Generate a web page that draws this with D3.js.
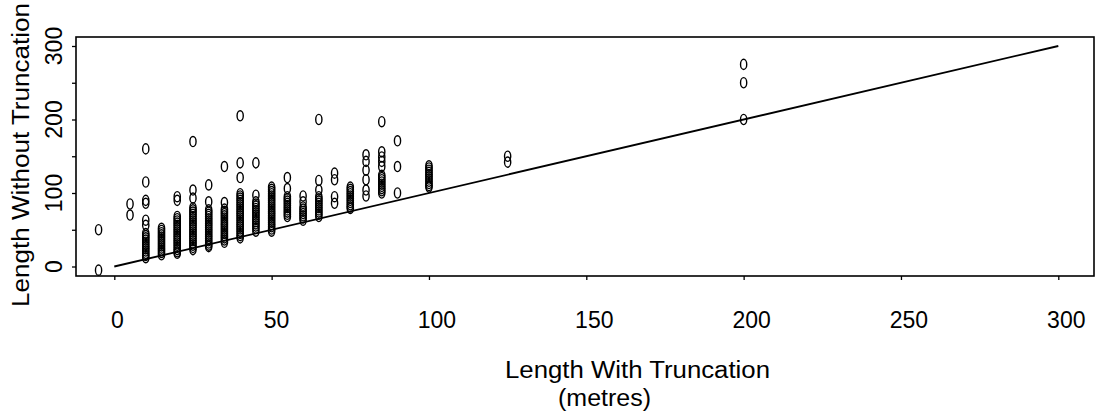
<!DOCTYPE html>
<html>
<head>
<meta charset="utf-8">
<script src="https://cdn.jsdelivr.net/npm/d3@7"></script>
<style>
  html, body { margin: 0; padding: 0; background: #fff; }
  svg { display: block; }
  text { font-family: "Liberation Sans", Arial, sans-serif; fill: #000; }
</style>
</head>
<body>
<svg id="chart" width="1096" height="413"></svg>
<script>
// ---- data ----
const lengthWith = [-5, 5, 10, 15, 20, 25, 30, 35, 40, 45, 50, 55, 60, 65, 70, 75, 80, 85, 90, 100, 125, 200];
const lengthWithout = [
  [50, -5],
  [85, 70],
  [160, 115, 90, 86, 63, 56, 45, 42, 39, 36, 33, 30, 27, 24, 21, 18, 15, 12],
  [52, 49, 46, 43, 40, 37, 34, 31, 28, 25, 22, 19, 16],
  [95, 90, 68, 65, 62, 59, 56, 53, 50, 47, 44, 41, 38, 35, 32, 29, 26, 23, 20, 18],
  [170, 104, 93, 80, 77, 74, 71, 68, 65, 62, 59, 56, 53, 50, 47, 44, 41, 38, 35, 32, 29, 26, 23],
  [111, 88, 77, 74, 71, 68, 65, 62, 59, 56, 53, 50, 47, 44, 41, 38, 35, 32, 29, 27],
  [136, 87, 78, 75, 72, 69, 66, 63, 60, 57, 54, 51, 48, 45, 42, 39, 36, 33],
  [205, 141, 121, 99, 96, 93, 90, 87, 84, 81, 78, 75, 72, 69, 66, 63, 60, 57, 54, 51, 48, 45, 42, 39],
  [141, 97, 88, 85, 82, 79, 76, 73, 70, 67, 64, 61, 58, 55, 52, 48],
  [108, 105, 102, 99, 96, 93, 90, 87, 84, 81, 78, 75, 72, 69, 66, 63, 60, 57, 54, 51, 48],
  [121, 106, 95, 92, 89, 86, 83, 80, 77, 74, 71, 68],
  [96, 88, 81, 78, 75, 72, 69, 66, 63],
  [200, 117, 104, 95, 92, 89, 86, 83, 80, 77, 74, 71, 68],
  [127, 118, 95, 86],
  [108, 105, 102, 99, 96, 93, 90, 87, 84, 81, 79],
  [152, 143, 131, 118, 104, 96],
  [197, 156, 149, 143, 136, 124, 121, 118, 115, 112, 109, 106, 103, 100],
  [171, 136, 100],
  [137, 134, 131, 128, 125, 122, 119, 116, 113, 110, 108],
  [150, 142],
  [275, 250, 200]
];
const identityLine = [0, 300];
const xTicks = [0, 50, 100, 150, 200, 250, 300];
const yTicks = [0, 50, 100, 150, 200, 250, 300];
const yTickLabels = [0, 100, 200, 300];
const xTitle = ["Length With Truncation", "(metres)"];
const yTitle = "Length Without Truncation";

// ---- layout ----
const svg = d3.select("#chart");
const frame = { left: 76, right: 1094, top: 37, bottom: 276 };
const x = d3.scaleLinear().domain([0, 300]).range([114.3, 1058.3]);
const y = d3.scaleLinear().domain([0, 300]).range([266.5, 46]);

const points = [];
lengthWith.forEach((xv, i) => lengthWithout[i].forEach(yv => points.push({ x: xv, y: yv })));

// identity line
svg.append("line")
  .attr("x1", x(identityLine[0])).attr("y1", y(identityLine[0]))
  .attr("x2", x(identityLine[1])).attr("y2", y(identityLine[1]))
  .attr("stroke", "#000").attr("stroke-width", 1.8);

// points
svg.append("g").selectAll("ellipse").data(points).join("ellipse")
  .attr("cx", d => x(d.x)).attr("cy", d => y(d.y))
  .attr("rx", 3.1).attr("ry", 5.1)
  .attr("fill", "none").attr("stroke", "#000").attr("stroke-width", 1.4);

// frame
svg.append("rect")
  .attr("x", frame.left).attr("y", frame.top)
  .attr("width", frame.right - frame.left).attr("height", frame.bottom - frame.top)
  .attr("fill", "none").attr("stroke", "#000").attr("stroke-width", 1.6);

// x axis
const xAxis = d3.axisBottom(x).tickValues(xTicks).tickSize(4).tickPadding(0).tickFormat("");
const gx = svg.append("g").attr("transform", `translate(0,${frame.bottom})`).call(xAxis);
gx.select(".domain").remove();
gx.selectAll(".tick line").attr("stroke", "#000").attr("stroke-width", 1.3);
const xOff = d => String(d).length === 1 ? 3 : String(d).length === 2 ? 5 : 8;
svg.append("g").selectAll("text").data(xTicks).join("text")
  .attr("x", d => x(d) + xOff(d)).attr("y", 328)
  .attr("text-anchor", "middle").attr("font-size", 23)
  .text(d => d);

// y axis
const yAxis = d3.axisLeft(y).tickValues(yTicks).tickSize(4).tickFormat("");
const gy = svg.append("g").attr("transform", `translate(${frame.left},0)`).call(yAxis);
gy.select(".domain").remove();
gy.selectAll(".tick line").attr("stroke", "#000").attr("stroke-width", 1.3);
svg.append("g").selectAll("text").data(yTickLabels).join("text")
  .attr("transform", d => `translate(61.5,${y(d)}) rotate(-90)`)
  .attr("text-anchor", "middle").attr("font-size", 23)
  .text(d => d);

// titles
svg.append("text")
  .attr("transform", "translate(29,155) rotate(-90)")
  .attr("text-anchor", "middle").attr("font-size", 23)
  .attr("textLength", 304).attr("lengthAdjust", "spacingAndGlyphs")
  .text(yTitle);
svg.append("text")
  .attr("x", 505).attr("y", 378)
  .attr("font-size", 23)
  .attr("textLength", 265).attr("lengthAdjust", "spacingAndGlyphs")
  .text(xTitle[0]);
svg.append("text")
  .attr("x", 558).attr("y", 406)
  .attr("font-size", 23)
  .attr("textLength", 93).attr("lengthAdjust", "spacingAndGlyphs")
  .text(xTitle[1]);
</script>
</body>
</html>
